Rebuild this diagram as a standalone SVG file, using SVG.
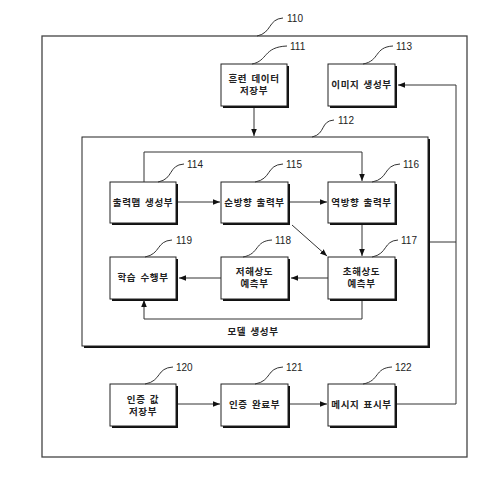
<svg xmlns="http://www.w3.org/2000/svg" width="503" height="489" viewBox="0 0 503 489">
<style>
.box{fill:#fff;stroke:#222;stroke-width:1}
.sh{fill:#111}
.t{font-family:"Noto Sans CJK KR","Noto Sans",sans-serif;font-size:9.5px;font-weight:bold;fill:#222;text-anchor:middle;letter-spacing:0.6px;word-spacing:1.5px}
.n{font-family:"Liberation Sans",Arial,sans-serif;font-size:10px;fill:#222}
.ld{fill:none;stroke:#333;stroke-width:1}
.c{fill:none;stroke:#333;stroke-width:1}
</style>
<defs>
<marker id="ah" viewBox="0 0 10 10" refX="10" refY="5" markerWidth="7" markerHeight="7" markerUnits="userSpaceOnUse" orient="auto">
<path d="M0,1 L10,5 L0,9 Z" fill="#111"/>
</marker>
</defs>
<rect width="503" height="489" fill="#fff"/>
<g id="n110">
<rect x="42" y="36" width="425" height="421" fill="none" stroke="#444" stroke-width="1.3"/>
<path class="ld" d="M257,36 C272,33 268,19 283,18"/>
<text class="n" x="287" y="22">110</text>
</g>
<g id="n112">
<rect class="sh" x="84" y="139" width="346" height="209"/>
<rect class="box" x="82" y="137" width="346" height="209"/>
<path class="ld" d="M312,137 C326,134 320,121 334,120"/>
<text class="n" x="338" y="124">112</text>
<text class="t" x="253" y="335">모델 생성부</text>
</g>
<g id="n111">
<rect class="sh" x="223" y="66" width="66" height="42"/>
<rect class="box" x="221" y="64" width="66" height="42"/>
<text class="t" x="254" y="81.5">훈련 데이터</text>
<text class="t" x="254" y="94">저장부</text>
<path class="ld" d="M252,64 C268,61 263,47 287,46"/>
<text class="n" x="290" y="50">111</text>
</g>
<g id="n113">
<rect class="sh" x="330" y="66" width="67" height="42"/>
<rect class="box" x="328" y="64" width="67" height="42"/>
<text class="t" x="361.5" y="88">이미지 생성부</text>
<path class="ld" d="M363,64 C380,61 374,47 393,46"/>
<text class="n" x="396" y="50">113</text>
</g>
<g id="n114">
<rect class="sh" x="112" y="184" width="66" height="41"/>
<rect class="box" x="110" y="182" width="66" height="41"/>
<text class="t" x="143" y="205.5">출력맵 생성부</text>
<path class="ld" d="M158,182 C174,179 168,165 184,164"/>
<text class="n" x="187" y="168">114</text>
</g>
<g id="n115">
<rect class="sh" x="223" y="184" width="67" height="41"/>
<rect class="box" x="221" y="182" width="67" height="41"/>
<text class="t" x="254.5" y="205.5">순방향 출력부</text>
<path class="ld" d="M255,182 C272,179 266,165 283,164"/>
<text class="n" x="286" y="168">115</text>
</g>
<g id="n116">
<rect class="sh" x="330" y="184" width="67" height="41"/>
<rect class="box" x="328" y="182" width="67" height="41"/>
<text class="t" x="361.5" y="205.5">역방향 출력부</text>
<path class="ld" d="M372,182 C389,179 383,165 400,164"/>
<text class="n" x="403" y="168">116</text>
</g>
<g id="n117">
<rect class="sh" x="330" y="259" width="67" height="42"/>
<rect class="box" x="328" y="257" width="67" height="42"/>
<text class="t" x="361.5" y="274.5">초해상도</text>
<text class="t" x="361.5" y="287">예측부</text>
<path class="ld" d="M372,257 C388,254 383,241 398,240"/>
<text class="n" x="401" y="244">117</text>
</g>
<g id="n118">
<rect class="sh" x="223" y="259" width="67" height="42"/>
<rect class="box" x="221" y="257" width="67" height="42"/>
<text class="t" x="254.5" y="274.5">저해상도</text>
<text class="t" x="254.5" y="287">예측부</text>
<path class="ld" d="M243,257 C260,254 254,241 272,240"/>
<text class="n" x="275" y="244">118</text>
</g>
<g id="n119">
<rect class="sh" x="112" y="259" width="66" height="42"/>
<rect class="box" x="110" y="257" width="66" height="42"/>
<text class="t" x="143" y="281">학습 수행부</text>
<path class="ld" d="M145,257 C161,254 156,241 172,240"/>
<text class="n" x="176" y="244">119</text>
</g>
<g id="n120">
<rect class="sh" x="112" y="386" width="66" height="42"/>
<rect class="box" x="110" y="384" width="66" height="42"/>
<text class="t" x="143" y="402.5">인증 값</text>
<text class="t" x="143" y="415">저장부</text>
<path class="ld" d="M145,384 C162,381 156,368 173,367"/>
<text class="n" x="176" y="371">120</text>
</g>
<g id="n121">
<rect class="sh" x="223" y="386" width="67" height="42"/>
<rect class="box" x="221" y="384" width="67" height="42"/>
<text class="t" x="254.5" y="408">인증 완료부</text>
<path class="ld" d="M255,384 C272,381 266,368 283,367"/>
<text class="n" x="286" y="371">121</text>
</g>
<g id="n122">
<rect class="sh" x="330" y="386" width="67" height="42"/>
<rect class="box" x="328" y="384" width="67" height="42"/>
<text class="t" x="361.5" y="408">메시지 표시부</text>
<path class="ld" d="M363,384 C380,381 374,368 392,367"/>
<text class="n" x="395" y="371">122</text>
</g>
<g id="connectors">
<path class="c" d="M254,108 V136" marker-end="url(#ah)"/>
<path class="c" d="M144,182 V152 H362 V181" marker-end="url(#ah)"/>
<path class="c" d="M178,202 H220" marker-end="url(#ah)"/>
<path class="c" d="M290,202 H327" marker-end="url(#ah)"/>
<path class="c" d="M292,225 L327,256" marker-end="url(#ah)"/>
<path class="c" d="M362,225 V256" marker-end="url(#ah)"/>
<path class="c" d="M328,278 H291" marker-end="url(#ah)"/>
<path class="c" d="M221,278 H179" marker-end="url(#ah)"/>
<path class="c" d="M362,301 V319 H144 V300" marker-end="url(#ah)"/>
<path class="c" d="M178,404 H220" marker-end="url(#ah)"/>
<path class="c" d="M290,404 H327" marker-end="url(#ah)"/>
<path class="c" d="M397,404 H456 V85 H398" marker-end="url(#ah)"/>
<path class="c" d="M430,242 H456"/>
</g>
</svg>
